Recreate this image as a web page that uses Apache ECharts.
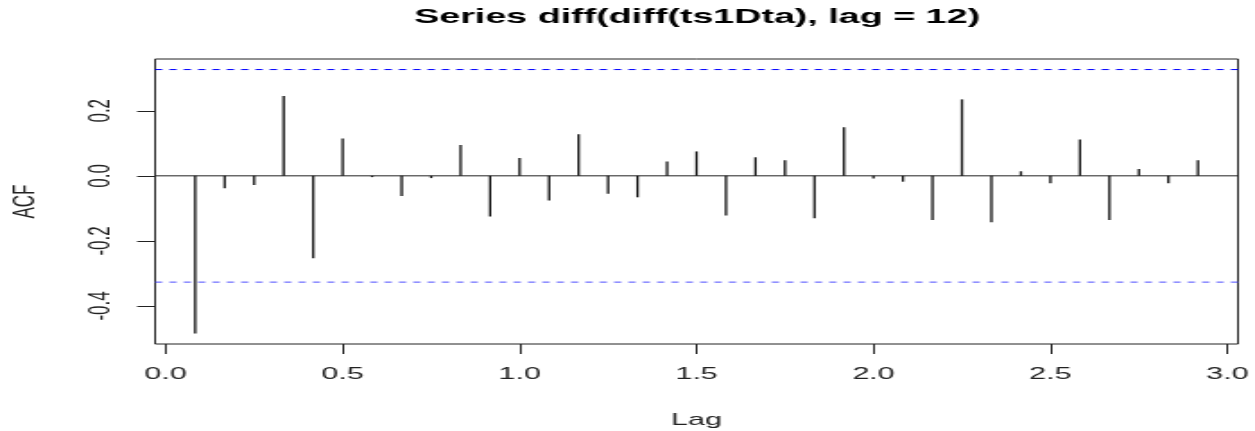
<!DOCTYPE html>
<html>
<head>
<meta charset="utf-8">
<script src="https://cdn.jsdelivr.net/npm/echarts@6/dist/echarts.min.js"></script>
<style>
  html, body { margin: 0; padding: 0; background: #fff; overflow: hidden; }
  #chart { width: 700px; height: 431px; transform: scaleX(1.792857); transform-origin: 0 0; }
</style>
</head>
<body>
<div id="chart"></div>
<script>
// Lags (in years, monthly series) and ACF values
const lags = [0.0833, 0.1667, 0.25, 0.3333, 0.4167, 0.5, 0.5833, 0.6667, 0.75, 0.8333,
              0.9167, 1.0, 1.0833, 1.1667, 1.25, 1.3333, 1.4167, 1.5, 1.5833, 1.6667,
              1.75, 1.8333, 1.9167, 2.0, 2.0833, 2.1667, 2.25, 2.3333, 2.4167, 2.5,
              2.5833, 2.6667, 2.75, 2.8333, 2.9167];
const acfValues = [-0.4845, -0.038, -0.028, 0.245, -0.253, 0.115, -0.004, -0.062, -0.007, 0.095,
                   -0.125, 0.055, -0.076, 0.128, -0.055, -0.066, 0.044, 0.075, -0.122, 0.057,
                   0.048, -0.130, 0.149, -0.008, -0.018, -0.136, 0.235, -0.143, 0.014, -0.023,
                   0.112, -0.136, 0.021, -0.023, 0.048];
const confLimit = 0.3267;
const xRange = [-0.03, 3.03];
const yRange = [-0.5169, 0.3591];
const xTicks = [0, 0.5, 1, 1.5, 2, 2.5, 3];
const yTicks = [-0.4, -0.2, 0, 0.2];
const titleText = 'Series diff(diff(ts1Dta), lag = 12)';

const chart = echarts.init(document.getElementById('chart'), null, { renderer: 'canvas' });
const labelFont = 'Liberation Sans, Arial, sans-serif';

function hLine(y, color, type) {
  return {
    type: 'line', silent: true, symbol: 'none', animation: false,
    lineStyle: { color: color, width: 1, type: type },
    data: [[xRange[0], y], [xRange[1], y]],
    z: 1
  };
}

chart.setOption({
  animation: false,
  backgroundColor: '#ffffff',
  title: {
    text: titleText,
    left: 231, top: 7, padding: 0,
    textStyle: { fontFamily: labelFont, fontSize: 21, fontWeight: 'bold', color: '#000' }
  },
  grid: {
    left: 86.5, right: 9.5, top: 59, bottom: 87,
    show: true, borderColor: '#222', borderWidth: 1,
    outerBoundsMode: 'none'
  },
  xAxis: {
    type: 'value', min: xRange[0], max: xRange[1],
    name: 'Lag', nameLocation: 'middle', nameGap: 68,
    nameTextStyle: { fontFamily: labelFont, fontSize: 17, color: '#222' },
    axisLine: { show: false, onZero: false },
    splitLine: { show: false },
    axisTick: { show: true, customValues: xTicks, length: 10, inside: false, lineStyle: { color: '#222' } },
    axisLabel: { customValues: xTicks, margin: 22, fontFamily: labelFont, fontSize: 17, color: '#222',
                 formatter: v => v.toFixed(1) }
  },
  yAxis: {
    type: 'value', min: yRange[0], max: yRange[1],
    name: 'ACF', nameLocation: 'middle', nameGap: 64, nameRotate: 90,
    nameTextStyle: { fontFamily: labelFont, fontSize: 17, color: '#222' },
    axisLine: { show: false, onZero: false },
    splitLine: { show: false },
    axisTick: { show: true, customValues: yTicks, length: 10, inside: false, lineStyle: { color: '#222' } },
    axisLabel: { customValues: yTicks, margin: 22, rotate: 90, fontFamily: labelFont, fontSize: 17, color: '#222',
                 formatter: v => v.toFixed(1) }
  },
  series: [
    hLine(0, '#222222', 'solid'),
    hLine(confLimit, '#0000ff', [4, 4]),
    hLine(-confLimit, '#4d4dff', [4, 4]),
    {
      type: 'bar',
      barWidth: 1.3,
      itemStyle: { color: '#111' },
      data: lags.map((l, i) => [l, acfValues[i]]),
      z: 3
    }
  ]
});
</script>
</body>
</html>
